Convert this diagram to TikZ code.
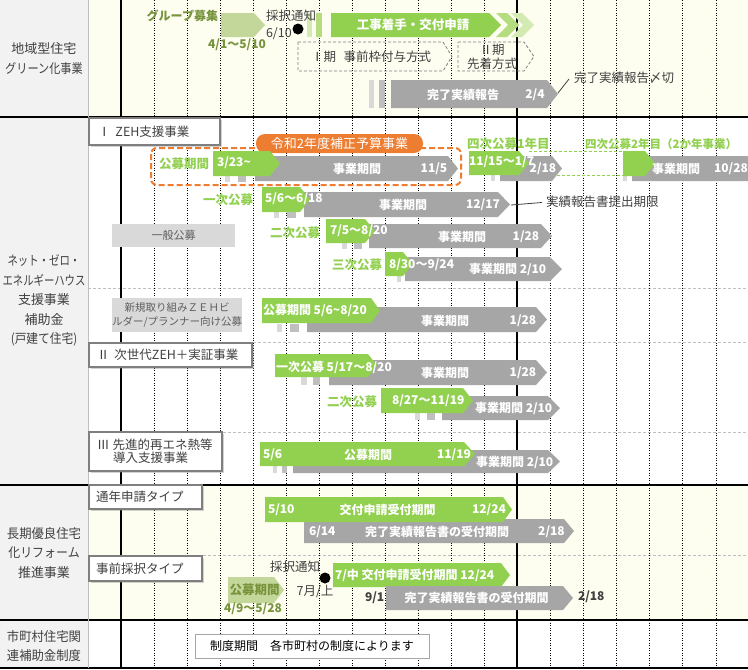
\documentclass[tikz,border=0pt]{standalone}
\usepackage{fontspec}
\setmainfont{Noto Sans CJK JP}
\usetikzlibrary{shadows}
\definecolor{cgreen}{HTML}{92D050}
\definecolor{cgray}{HTML}{A6A6A6}
\definecolor{lgreen}{HTML}{C4D79B}
\definecolor{cOlive}{HTML}{77933C}
\definecolor{tabA}{HTML}{D9D9D9}
\definecolor{tabB}{HTML}{BFBFBF}
\definecolor{corange}{HTML}{ED7D31}
\definecolor{cream}{HTML}{FDFDF0}
\definecolor{labgray}{HTML}{F2F2F2}
\definecolor{dark}{HTML}{404040}
\definecolor{chevA}{HTML}{B5DD80}
\definecolor{chevB}{HTML}{D3EBB3}
\definecolor{boxgray}{HTML}{7F7F7F}
\newcommand{\pent}[6]{\fill[#1] (#2,#3) -- ({#4-#6},#3) -- (#4,{(#3+#5)/2}) -- ({#4-#6},#5) -- (#2,#5) -- cycle;}
\newcommand{\sq}[2][0.84]{\scalebox{#1}[1]{#2}}
\tikzset{
  every node/.style={inner sep=0pt, outer sep=0pt},
  lab/.style={font=\fontsize{13}{19.5}\selectfont, text=dark, align=center},
  wb/.style={font=\fontsize{12}{14}\selectfont\bfseries, text=white},
  gb/.style={font=\fontsize{12.5}{14}\selectfont\bfseries, text=cgreen},
  ob/.style={font=\fontsize{12}{14}\selectfont\bfseries, text=cOlive},
  dk/.style={font=\fontsize{12.5}{14}\selectfont, text=dark},
  dkb/.style={font=\fontsize{12}{14}\selectfont\bfseries, text=dark},
  titlebox/.style={draw=boxgray, line width=1.5pt, fill=white, anchor=north west, align=left,
     font=\fontsize{12.5}{14}\selectfont, text=dark,
     drop shadow={opacity=0.35, shadow xshift=1.5pt, shadow yshift=-1.5pt}},
  graybox/.style={fill=tabA, text=dark!85, font=\fontsize{10.5}{14.5}\selectfont, align=center, anchor=north west},
  sepdash/.style={draw=tabB, line width=0.8pt, dash pattern=on 3pt off 2pt},
  gridline/.style={draw=black, line width=0.8pt, dash pattern=on 1pt off 1.5pt},
  dashbox/.style={draw=boxgray, line width=0.8pt, dash pattern=on 3pt off 2pt},
  leader/.style={draw=dark, line width=0.8pt},
}
\begin{document}
\begin{tikzpicture}[x=1pt,y=-1pt]
\useasboundingbox (0,0) rectangle (748,670);
\clip (0,0) rectangle (748,670);
% backgrounds
\fill[white] (0,0) rectangle (748,670);
\fill[cream] (88,0) rectangle (748,117);
\fill[cream] (88,485) rectangle (748,620);
\fill[labgray] (0,0) rectangle (88,668);
% dashed separators
\draw[sepdash] (88,288) -- (748,288);
\draw[sepdash] (88,342) -- (748,342);
\draw[sepdash] (88,432) -- (748,432);
\draw[sepdash] (88,555) -- (748,555);
% grid
\foreach \i in {1,...,11,13,14,15,16,17,18} {
  \pgfmathsetmacro\xx{121+33.05*\i}
  \draw[gridline] (\xx,0) -- (\xx,668);
}
\draw[line width=2pt] (121,0) -- (121,668);
\draw[line width=2pt] (517,0) -- (517,668);
% row lines
\draw[line width=1.5pt] (0,117) -- (748,117);
\draw[line width=1.5pt] (0,485) -- (748,485);
\draw[line width=1.5pt] (0,620) -- (748,620);
\draw[line width=1.5pt] (0,668) -- (748,668);
\draw[draw=tabB, line width=1pt] (88,0) -- (88,668);

% ===== left labels
\node[lab] (L1) at (44,58.5) {地域型住宅\\\sq[0.86]{グリーン化事業}};
\node[lab] (L2) at (44,300.5) {\sq[0.8]{ネット・ゼロ・}\\\sq[0.8]{エネルギーハウス}\\支援事業\\補助金\\\sq[0.9]{(戸建て住宅)}};
\node[lab] (L3) at (44,553) {\sq[0.95]{長期優良住宅}\\\sq[0.92]{化リフォーム}\\推進事業};
\node[lab] (L4) at (44,646) {\sq[0.95]{市町村住宅関}\\\sq[0.95]{連補助金制度}};

% ===== section 1
\node[ob, anchor=east] (gboshu) at (218,16) {グループ募集};
\pent{lgreen}{221}{13}{265}{37}{11}
\node[ob] (gdate) at (237,45) {4/1〜5/10};
\fill[chevB] (307,13) rectangle (312,37);
\fill[chevA] (316,13) rectangle (322,37);
\node[dk, anchor=west] (saitaku1) at (266,16) {採択通知};
\node[dk, anchor=west] (d610) at (266,34) {6/10};
\node[circle, fill=black, minimum size=11pt] (dot1) at (298,29) {};
\pent{cgreen}{331}{13}{501}{37}{12}
\fill[chevA] (496,13) -- (507,13) -- (519,25) -- (507,37) -- (496,37) -- (508,25) -- cycle;
\fill[chevB] (511,13) -- (522,13) -- (534,25) -- (522,37) -- (511,37) -- (523,25) -- cycle;
\node[wb, font=\fontsize{12.5}{14}\selectfont\bfseries] (koji) at (413,25) {工事着手・交付申請};
\draw[dashbox] (298,42) -- (443,42) -- (452,56.5) -- (443,71) -- (298,71) -- cycle;
\draw[dashbox] (458,42) -- (524,42) -- (534,56.5) -- (524,71) -- (458,71) -- cycle;
\node[dk] (ki1) at (371,57) {Ⅰ期\hspace{0.6em}事前枠付与方式};
\node[dk, align=center, font=\fontsize{12.5}{13.5}\selectfont] (ki2) at (492,57) {Ⅱ期\\先着方式};
\fill[tabA] (369,80) rectangle (374,108);
\fill[tabB] (379,80) rectangle (385,108);
\pent{cgray}{391}{80}{558}{108}{11}
\node[wb] (kanryo) at (463,94.5) {完了実績報告};
\node[wb] (d24) at (535,94.5) {2/4};
\coordinate (tip1) at (558,93);
\node[dk, anchor=west] (shime) at (574,78) {完了実績報告〆切};
\draw[leader] (tip1) -- (569,79);

% ===== section 2 : ZEH
\node[titlebox, minimum width=131pt, minimum height=27pt, text width=113pt, inner xsep=9pt] (zeh1) at (89,118) {Ⅰ\hspace{0.4em}ZEH支援事業};
\draw[corange, line width=2pt, dash pattern=on 6pt off 3pt, rounded corners=6pt] (151,148) rectangle (461,185);
\node[fill=corange, text=white, rounded corners=9pt, minimum width=167pt, minimum height=19pt, font=\fontsize{13}{14}\selectfont] (hosei) at (339.5,143.5) {令和2年度補正予算事業};
% koubo 3/23
\node[gb, anchor=east] (kb0) at (209,164) {公募期間};
\pent{cgray}{255}{156}{458}{181}{10}
\fill[tabA] (225,176) rectangle (230,182);
\fill[tabB] (238,176) rectangle (246,182);
\pent{cgreen}{213}{151}{280}{176}{10}
\node[wb, anchor=west] (d323) at (217,163) {3/23\textasciitilde};
\node[wb] (jg0) at (357,169) {事業期間};
\node[wb] (d115) at (434,169) {11/5};
% 4th round
\node[gb, anchor=west] (yon1) at (467,144) {四次公募1年目};
\node[gb, anchor=west, font=\fontsize{11.5}{14}\selectfont\bfseries] (yon2) at (585,144) {四次公募2年目（2か年事業）};
\draw[cgreen, line width=0.8pt, dash pattern=on 3pt off 2pt] (529,151) -- (623,151);
\draw[cgreen, line width=0.8pt, dash pattern=on 3pt off 2pt] (557,175.5) -- (623,175.5);
\pent{cgray}{500}{156}{562}{181}{10}
\fill[tabA] (491,175) rectangle (495,181);
\pent{cgreen}{469}{151}{529}{175}{10}
\node[wb, anchor=west] (d1115) at (469,162) {11/15〜1/7};
\node[wb] (d218a) at (543,169) {2/18};
\pent{cgray}{632}{156}{780}{181}{10}
\fill[tabA] (623,176) rectangle (627,181);
\pent{cgreen}{623}{151}{655}{176}{10}
\node[wb] (jg4) at (676,168.5) {事業期間};
\node[wb] (d1028) at (731,168.5) {10/28};
% 1st
\node[gb, anchor=east] (ichi) at (253,200) {一次公募};
\pent{cgray}{304}{192}{510}{217}{12}
\fill[tabA] (274,212) rectangle (279,218);
\fill[tabB] (287,212) rectangle (296,218);
\pent{cgreen}{262}{187}{310}{212}{10}
\node[wb, anchor=west] (d56) at (265,199) {5/6〜6/18};
\node[wb] (jg1) at (403,205) {事業期間};
\node[wb] (d1217) at (483,204.5) {12/17};
\coordinate (tip2) at (511,205);
\node[dk, anchor=west] (teishutsu) at (546,202) {実績報告書提出期限};
\draw[leader] (tip2) -- (542,202.5);
% general
\node[graybox, minimum width=123pt, minimum height=23pt, font=\fontsize{11}{14}\selectfont] (ippan) at (112,224) {一般公募};
% 2nd
\node[gb, anchor=east] (ni) at (320,233) {二次公募};
\pent{cgray}{369}{224}{552}{248}{11}
\fill[tabA] (342,243) rectangle (347,249);
\fill[tabB] (354,243) rectangle (362,249);
\pent{cgreen}{326}{219}{375}{243}{10}
\node[wb, anchor=west] (d75) at (330,231) {7/5〜8/20};
\node[wb] (jg2) at (462,237) {事業期間};
\node[wb] (d128a) at (526,237) {1/28};
% 3rd
\node[gb, anchor=east] (san) at (382,265) {三次公募};
\pent{cgray}{405}{257}{562}{281}{12}
\fill[tabA] (397,276) rectangle (401,282);
\pent{cgreen}{385}{252}{413}{276}{10}
\node[wb, anchor=west] (d830) at (389,264.5) {8/30〜9/24};
\node[wb, anchor=west] (jg3) at (469,269) {事業期間 2/10};
% builder
\node[graybox, minimum width=127pt, minimum height=34pt] (builder) at (112,298) {新規取り組みＺＥＨビ\\ルダー/プランナー向け公募};
\pent{cgray}{307}{307}{547}{332}{11}
\fill[tabA] (277,324) rectangle (282,332);
\fill[tabB] (290,324) rectangle (299,332);
\pent{cgreen}{262}{298}{380}{323}{9}
\node[wb, anchor=west] (kb5) at (263,310.5) {公募期間 5/6\textasciitilde 8/20};
\node[wb] (jg5) at (445,320.5) {事業期間};
\node[wb] (d128b) at (523,320.5) {1/28};
% II
\node[titlebox, minimum width=163pt, minimum height=24pt, text width=147pt, inner xsep=8pt] (zeh2) at (89,343) {Ⅱ\hspace{0.4em}次世代ZEH＋実証事業};
\pent{cgray}{329}{360}{547}{385}{11}
\fill[tabA] (301,377) rectangle (307,385);
\fill[tabB] (313,377) rectangle (320,385);
\pent{cgreen}{275}{354}{377}{377}{9}
\node[wb, anchor=west] (ichi2) at (276,367) {一次公募 5/17〜8/20};
\node[wb] (jg6) at (445,373) {事業期間};
\node[wb] (d128c) at (523,373) {1/28};
\node[gb, anchor=east] (ni2) at (377,401.5) {二次公募};
\pent{cgray}{442}{396}{560}{420}{12}
\fill[tabA] (415,413) rectangle (420,420);
\fill[tabB] (427,413) rectangle (435,420);
\pent{cgreen}{381}{388}{473}{413}{10}
\node[wb, anchor=west] (d827) at (392,401) {8/27〜11/19};
\node[wb, anchor=west] (jg7) at (475,408.5) {事業期間 2/10};
% III
\node[titlebox, minimum width=133pt, minimum height=39pt] (zeh3) at (89,432) {};
\node[dk, anchor=west] (zeh3a) at (97,444.5) {Ⅲ\hspace{0.25em}先進的再エネ熱等};
\node[dk, anchor=west] (zeh3b) at (113,458) {導入支援事業};
\pent{cgray}{293}{450}{560}{473}{12}
\fill[tabA] (273,466) rectangle (277,473);
\fill[tabB] (282,466) rectangle (287,473);
\pent{cgreen}{260}{442}{475}{466}{11}
\node[wb, anchor=west] (d56b) at (263,455) {5/6};
\node[wb] (kb8) at (368,455) {公募期間};
\node[wb] (d1119) at (454,455) {11/19};
\node[wb, anchor=west] (jg8) at (476,462) {事業期間 2/10};

% ===== section 3
\node[titlebox, minimum width=113pt, minimum height=24pt, text width=99pt, inner xsep=7pt] (tsunen) at (89,485) {通年申請タイプ};
\pent{cgray}{304}{519}{574}{543}{10}
\pent{cgreen}{265}{497}{512}{522}{9}
\node[wb, anchor=west] (d510) at (268,510) {5/10};
\node[wb] (kofu1) at (387.5,510) {交付申請受付期間};
\node[wb] (d1224a) at (489,510) {12/24};
\node[wb, anchor=west] (d614) at (309,532) {6/14};
\node[wb] (kan1) at (437,532) {完了実績報告書の受付期間};
\node[wb] (d218b) at (551.5,532) {2/18};
\node[titlebox, minimum width=113pt, minimum height=25pt, text width=99pt, inner xsep=7pt] (jizen) at (89,556) {事前採択タイプ};
\pent{lgreen}{228}{577}{284}{603}{10}
\node[ob, font=\fontsize{12.5}{14}\selectfont\bfseries] (kb9) at (254.5,589.5) {公募期間};
\node[ob] (d49) at (253,609) {4/9〜5/28};
\node[dk, anchor=west] (saitaku2) at (270,567) {採択通知};
\node[circle, fill=black, minimum size=11pt] (dot2) at (325,578) {};
\node[dk] (jul) at (315,591) {7月/上};
\pent{cgreen}{333}{563}{510}{587}{9}
\node[wb, anchor=west] (d7) at (335,575.5) {7/中 交付申請受付期間 12/24};
\pent{cgray}{386}{586}{573}{610}{10}
\node[dkb, anchor=west] (d91) at (365,598) {9/1};
\node[wb] (kan2) at (476.5,597.5) {完了実績報告書の受付期間};
\node[dkb, anchor=west] (d218c) at (578,597) {2/18};

% ===== section 4
\node[draw=cgray, line width=0.8pt, fill=white, minimum width=234pt, minimum height=24pt, font=\fontsize{12}{14}\selectfont, text=black] (seido) at (312,646) {制度期間　各市町村の制度によります};
\end{tikzpicture}
\end{document}
